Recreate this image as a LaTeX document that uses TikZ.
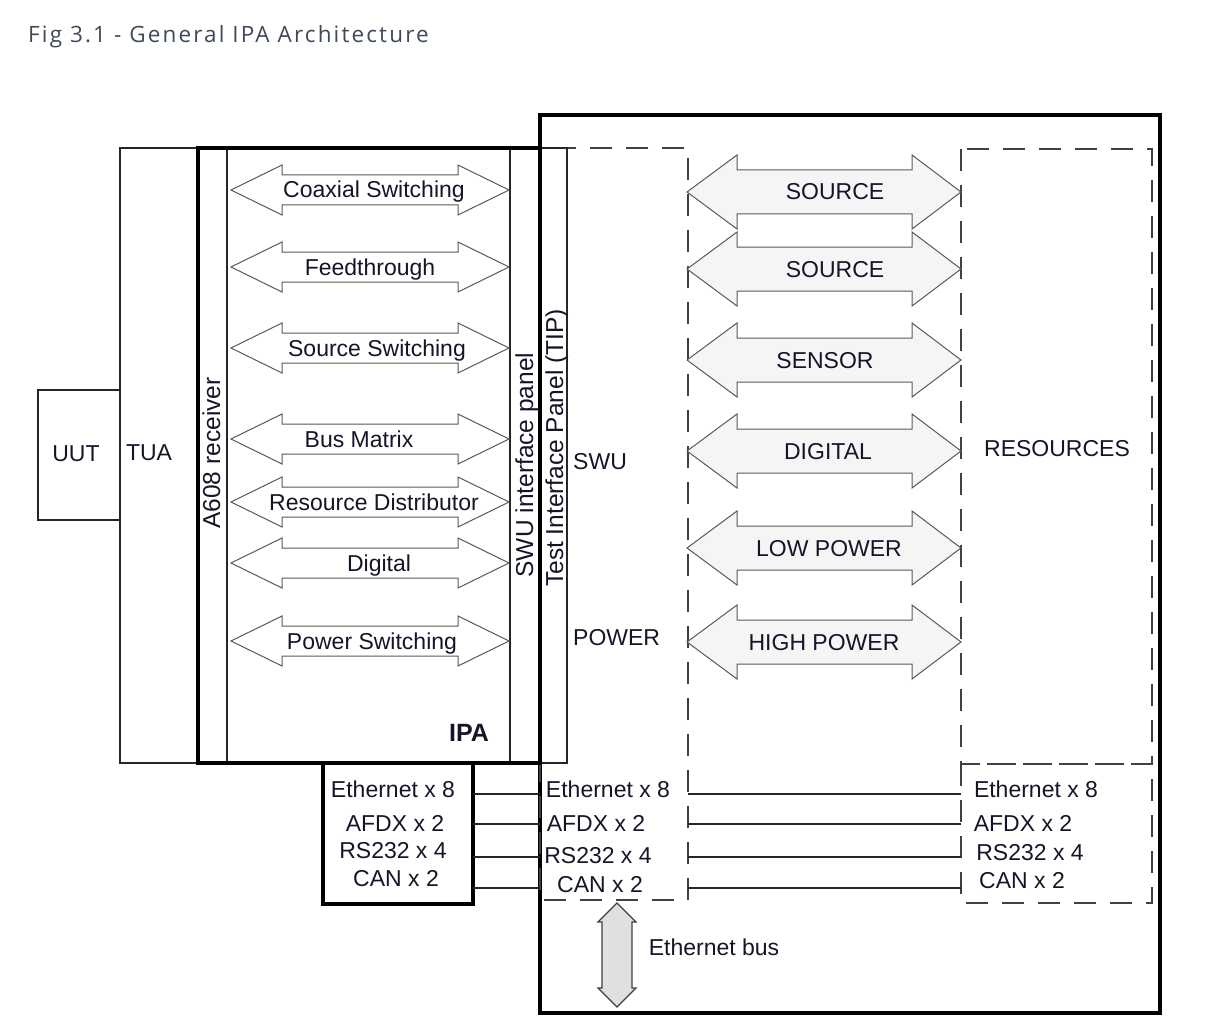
\documentclass[tikz,border=0pt]{standalone}
\usepackage{fontspec}
\setmainfont{Liberation Sans}
\newfontfamily\titlefont[LetterSpace=9.5]{Open Sans}
\usetikzlibrary{positioning}
\definecolor{txt}{HTML}{15152A}
\definecolor{titlegrey}{HTML}{3E4A5A}

\begin{document}
\begin{tikzpicture}[x=1pt, y=-1pt,
  every node/.style = {
    font = \fontsize{23}{27}\selectfont,
    text = txt,
    inner sep = 0,
    text height = 20pt,
    text depth = 4pt,
  },
  thin frame/.style = {line width = 1.2pt, draw = black!85},
  thick frame/.style = {line width = 4.5pt, draw = black},
  dash frame/.style = {line width = 1.3pt, draw = black!75, dash pattern = on 22pt off 14pt},
  ipa arrow/.style = {line width = 1pt, draw = black!65, fill = white},
  res arrow/.style = {line width = 1pt, draw = black!65, fill = black!4},
  bus arrow/.style = {line width = 1.2pt, draw = black!75, fill = black!12},
  rot/.style = {rotate = 90, font = \fontsize{24.5}{28}\selectfont},
]
\useasboundingbox (0,0) rectangle (1230,1024);

\node[anchor=west, font=\titlefont\fontsize{22.5}{26}\selectfont, text=titlegrey] (title) at (28,35) {Fig 3.1 - General IPA Architecture};

% frames
\draw[thick frame] (540,115) rectangle (1160,1013);
\draw[dash frame] (540,148) rectangle (688,900);
\draw[dash frame] (961,149) rectangle (1152,764);
\draw[dash frame] (961,764) rectangle (1152,903);
\draw[thin frame] (198,148) -- (120,148) -- (120,763) -- (198,763);
\draw[thin frame] (120,390) -- (38,390) -- (38,520) -- (120,520);
\draw[thin frame] (227,148) -- (227,763);
\draw[thin frame] (510,148) -- (510,763);
\draw[thin frame] (540,148) -- (567,148) -- (567,763) -- (540,763);
\draw[thick frame] (198,148) rectangle (540,763);
\draw[thick frame] (323,763) rectangle (473,904);

% IPA switching paths
\foreach \y/\x/\name/\lbl in {190/374/coax/Coaxial Switching, 267/370/feed/Feedthrough,
    348/377/srcsw/Source Switching, 439/359/busmx/Bus Matrix,
    502/374/resdist/Resource Distributor, 563/379/dig/Digital, 641/372/pwrsw/Power Switching} {
  \draw[ipa arrow] (231,\y) -- (282,{\y-25}) -- (282,{\y-15}) -- (458,{\y-15}) -- (458,{\y-25})
    -- (509,\y) -- (458,{\y+25}) -- (458,{\y+15}) -- (282,{\y+15}) -- (282,{\y+25}) -- cycle;
  \node (\name) at (\x,\y) {\lbl};
}

% resources
\foreach \y/\x/\name/\lbl in {192/835/src1/SOURCE, 269/835/src2/SOURCE, 360/825/sens/SENSOR,
    451/828/digres/DIGITAL, 548/829/lowpwr/LOW POWER, 642/824/highpwr/HIGH POWER} {
  \draw[res arrow] (687,\y) -- (737,{\y-37}) -- (737,{\y-22}) -- (912,{\y-22}) -- (912,{\y-37})
    -- (961,\y) -- (912,{\y+37}) -- (912,{\y+22}) -- (737,{\y+22}) -- (737,{\y+37}) -- cycle;
  \node (\name) at (\x,\y) {\lbl};
}

\node (uut) at (76,453) {UUT};
\node (tua) at (149,452) {TUA};
\node[rot] (rcv) at (212,453) {A608 receiver};
\node[rot] (swupanel) at (525,465) {SWU interface panel};
\node[rot] (tip) at (555,448) {Test Interface Panel (TIP)};
\node[anchor=west] (swu) at (573,461) {SWU};
\node[anchor=west] (power) at (573,637) {POWER};
\node (resources) at (1057,448) {RESOURCES};
\node[font=\bfseries\fontsize{25}{30}\selectfont] (ipa) at (469,733) {IPA};

% communication links
\foreach \y [count=\i] in {794,824,857,888} {
  \coordinate (ioL\i) at (473,\y);
  \coordinate (ioR\i) at (540,\y);
  \coordinate (resL\i) at (688,\y);
  \coordinate (resR\i) at (961,\y);
  \draw[thin frame] (ioL\i) -- (ioR\i);
  \draw[thin frame] (resL\i) -- (resR\i);
}
\foreach \x/\y/\lbl [count=\i] in {393/789/Ethernet x 8, 395/823/AFDX x 2, 393/850/RS232 x 4, 396/878/CAN x 2}
  \node (io\i) at (\x,\y) {\lbl};
\foreach \x/\y/\lbl [count=\i] in {608/789/Ethernet x 8, 596/823/AFDX x 2, 598/855/RS232 x 4, 600/884/CAN x 2}
  \node (swuio\i) at (\x,\y) {\lbl};
\foreach \x/\y/\lbl [count=\i] in {1036/789/Ethernet x 8, 1023/823/AFDX x 2, 1030/852/RS232 x 4, 1022/880/CAN x 2}
  \node (resio\i) at (\x,\y) {\lbl};

% ethernet bus
\draw[bus arrow] (617,903) -- (636,922) -- (632,922) -- (632,988) -- (636,988) -- (617,1007)
  -- (598,988) -- (602,988) -- (602,922) -- (598,922) -- cycle;
\node (ethbus) at (714,947) {Ethernet bus};
\end{tikzpicture}
\end{document}
